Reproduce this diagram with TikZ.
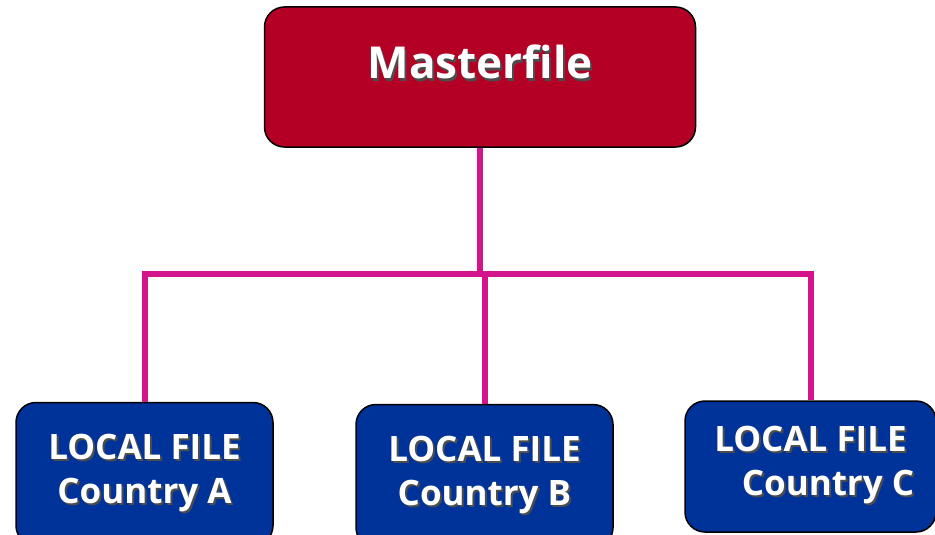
\documentclass[tikz,border=0pt]{standalone}
\usepackage{fontspec}
\setmainfont{Open Sans}
\usepackage{tikz}

\definecolor{masterred}{HTML}{B50026}
\definecolor{localblue}{HTML}{003399}
\definecolor{linkpink}{HTML}{D4148C}

\newcommand\shd[1]{\rlap{\kern2pt\raisebox{-2pt}{\color{black!70}#1}}#1}

\begin{document}
\begin{tikzpicture}[x=1pt,y=-1pt,
	filebox/.style={shape=rectangle,rounded corners=20pt,draw=black,line width=1.5pt,text=white,font=\fontsize{35}{44}\selectfont\bfseries,align=center,inner sep=0pt},
	link/.style={draw=linkpink,line width=6pt}]
	
	\useasboundingbox (0,0) rectangle (935,535);
	\clip (0,0) rectangle (935,535);
	
	\node[filebox,fill=masterred,minimum width=431pt,minimum height=140pt,font=\fontsize{44}{50}\selectfont\bfseries,text height=32pt,text depth=28pt] (master) at (480, 77) {\shd{Masterfile}};
	\node[filebox,fill=localblue,minimum width=257pt,minimum height=143pt] (fileA) at (144.5, 474) {\shd{LOCAL FILE}\\\shd{Country A}};
	\node[filebox,fill=localblue,minimum width=257pt,minimum height=143pt] (fileB) at (484.5, 476) {\shd{LOCAL FILE}\\\shd{Country B}};
	\node[filebox,fill=localblue,minimum width=251pt,minimum height=131pt] (fileC) at (810.5, 466.5) {\raisebox{-4pt}{\shd{LOCAL FILE}}\\\hspace*{35pt}\raisebox{-4pt}{\shd{Country C}}};
	
	\coordinate (bus) at (480, 274);

	\draw[link] (master.south) -- (bus);
	\draw[link] (fileA.north) |- (bus) -| (fileC.north);
	\draw[link] (fileB.north) -- (fileB.north |- bus);
	
\end{tikzpicture}
\end{document}
